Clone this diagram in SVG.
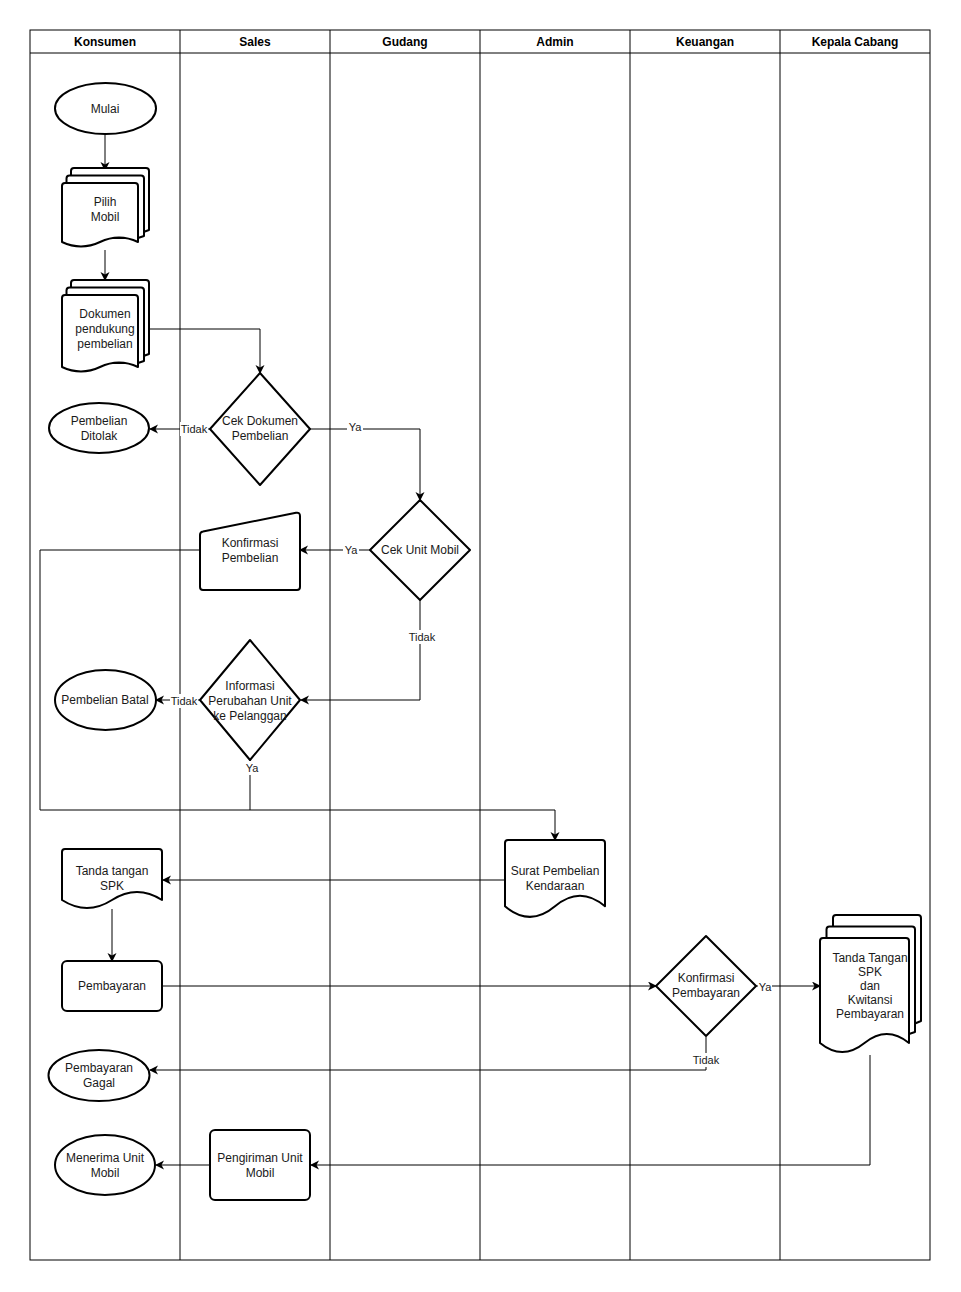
<svg xmlns="http://www.w3.org/2000/svg" width="961" height="1292" viewBox="0 0 961 1292">
<defs>
<marker id="arr" markerWidth="10" markerHeight="10" refX="8" refY="4.5" orient="auto" markerUnits="userSpaceOnUse">
<path d="M0,0 L9,4.5 L0,9 L2.5,4.5 Z" fill="#000"/>
</marker>
<style>
.lane{fill:none;stroke:#000;stroke-width:1}
.hd{font-family:"Liberation Sans",Arial,sans-serif;font-size:12px;font-weight:bold;fill:#000;text-anchor:middle}
.sh{fill:#fff;stroke:#000;stroke-width:2;stroke-linejoin:round}
.t{font-family:"Liberation Sans",Arial,sans-serif;font-size:12px;fill:#1a1a1a;text-anchor:middle}
.el{font-family:"Liberation Sans",Arial,sans-serif;font-size:11px;fill:#1a1a1a;text-anchor:middle}
.cn{fill:none;stroke:#000;stroke-width:1}
.ar{marker-end:url(#arr)}
.bg{fill:#fff}
</style>
</defs>
<rect x="0" y="0" width="961" height="1292" fill="#fff"/>

<g id="lanes">
<rect class="lane" x="30" y="30" width="900" height="1230"/>
<line class="lane" x1="30" y1="53" x2="930" y2="53"/>
<line class="lane" x1="180" y1="30" x2="180" y2="1260"/>
<line class="lane" x1="330" y1="30" x2="330" y2="1260"/>
<line class="lane" x1="480" y1="30" x2="480" y2="1260"/>
<line class="lane" x1="630" y1="30" x2="630" y2="1260"/>
<line class="lane" x1="780" y1="30" x2="780" y2="1260"/>
<text class="hd" x="105" y="46">Konsumen</text>
<text class="hd" x="255" y="46">Sales</text>
<text class="hd" x="405" y="46">Gudang</text>
<text class="hd" x="555" y="46">Admin</text>
<text class="hd" x="705" y="46">Keuangan</text>
<text class="hd" x="855" y="46">Kepala Cabang</text>
</g>

<g id="connectors">
<path class="cn ar" d="M105,134 V170"/>
<path class="cn ar" d="M105,250 V280"/>
<path class="cn ar" d="M150,329 H260 V373"/>
<path class="cn ar" d="M210,429 H150"/>
<path class="cn ar" d="M310,429 H420 V500"/>
<path class="cn ar" d="M370,550 H300"/>
<path class="cn ar" d="M420,600 V700 H301"/>
<path class="cn ar" d="M200,700 H156"/>
<path class="cn ar" d="M200,550 H40 V810 H555 V840"/>
<path class="cn" d="M250,760 V810"/>
<path class="cn ar" d="M505,880 H163"/>
<path class="cn ar" d="M112,909 V961"/>
<path class="cn ar" d="M162,986 H656"/>
<path class="cn ar" d="M756,986 H820"/>
<path class="cn ar" d="M706,1037 V1070 H150"/>
<path class="cn ar" d="M870,1055 V1165 H311"/>
<path class="cn ar" d="M210,1165 H156"/>
<rect class="bg" x="180" y="422" width="28" height="14"/>
<text class="el" x="194" y="433">Tidak</text>
<rect class="bg" x="347" y="420" width="16" height="14"/>
<text class="el" x="355" y="431">Ya</text>
<rect class="bg" x="343" y="543" width="16" height="14"/>
<text class="el" x="351" y="554">Ya</text>
<rect class="bg" x="408" y="630" width="28" height="14"/>
<text class="el" x="422" y="641">Tidak</text>
<rect class="bg" x="170" y="694" width="28" height="14"/>
<text class="el" x="184" y="705">Tidak</text>
<rect class="bg" x="244" y="761" width="16" height="14"/>
<text class="el" x="252" y="772">Ya</text>
<rect class="bg" x="758" y="980" width="14" height="14"/>
<text class="el" x="765" y="991">Ya</text>
<rect class="bg" x="692" y="1053" width="28" height="14"/>
<text class="el" x="706" y="1064">Tidak</text>
</g>

<g id="mulai">
<ellipse class="sh" cx="105.5" cy="108.5" rx="50.5" ry="25.5"/>
<text class="t" x="105" y="113">Mulai</text>
</g>

<g id="pilih-mobil">
<path class="sh" d="M71,171 Q71,168 74,168 H146 Q149,168 149,171 V230 L138,234 L71,234 Z"/>
<path class="sh" d="M66.5,178.5 Q66.5,175.5 69.5,175.5 H141 Q144,175.5 144,178.5 V236 L138,238 L66.5,238 Z"/>
<path class="sh" d="M62,186 Q62,183 65,183 H135 Q138,183 138,186 V242 Q119,233 100,242 Q81,251 62,242 Z"/>
<text class="t" x="105" y="206">Pilih</text>
<text class="t" x="105" y="221">Mobil</text>
</g>

<g id="dokumen">
<path class="sh" d="M71,283 Q71,280 74,280 H146 Q149,280 149,283 V354 L138,358 L71,358 Z"/>
<path class="sh" d="M66.5,290.5 Q66.5,287.5 69.5,287.5 H141 Q144,287.5 144,290.5 V361 L138,363 L66.5,363 Z"/>
<path class="sh" d="M62,298 Q62,295 65,295 H135 Q138,295 138,298 V367 Q119,358 100,367 Q81,376 62,367 Z"/>
<text class="t" x="105" y="318">Dokumen</text>
<text class="t" x="105" y="333">pendukung</text>
<text class="t" x="105" y="348">pembelian</text>
</g>

<g id="cek-dokumen">
<path class="sh" d="M260,373 L310,429 L260,485 L210,429 Z"/>
<text class="t" x="260" y="425">Cek Dokumen</text>
<text class="t" x="260" y="440">Pembelian</text>
</g>

<g id="pembelian-ditolak">
<ellipse class="sh" cx="99" cy="428" rx="50" ry="25"/>
<text class="t" x="99" y="425">Pembelian</text>
<text class="t" x="99" y="440">Ditolak</text>
</g>

<g id="cek-unit">
<path class="sh" d="M420,500 L470,550 L420,600 L370,550 Z"/>
<text class="t" x="420" y="554">Cek Unit Mobil</text>
</g>

<g id="konfirmasi-pembelian">
<path class="sh" d="M203,531.5 L296,512.8 Q300,512 300,516 L300,587 Q300,590 297,590 L203,590 Q200,590 200,587 L200,535 Q200,532 203,531.5 Z"/>
<text class="t" x="250" y="547">Konfirmasi</text>
<text class="t" x="250" y="562">Pembelian</text>
</g>

<g id="informasi">
<path class="sh" d="M250,640 L300,700 L250,760 L200,700 Z"/>
<text class="t" x="250" y="690">Informasi</text>
<text class="t" x="250" y="705">Perubahan Unit</text>
<text class="t" x="250" y="720">ke Pelanggan</text>
</g>

<g id="pembelian-batal">
<ellipse class="sh" cx="105.5" cy="700" rx="50.5" ry="30"/>
<text class="t" x="105" y="704">Pembelian Batal</text>
</g>

<g id="surat">
<path class="sh" d="M505,843 Q505,840 508,840 H602 Q605,840 605,843 V906.3 Q580,885.2 555,906.3 Q530,927.4 505,906.3 Z"/>
<text class="t" x="555" y="875">Surat Pembelian</text>
<text class="t" x="555" y="890">Kendaraan</text>
</g>

<g id="tanda-tangan-spk">
<path class="sh" d="M62,852 Q62,849 65,849 H159 Q162,849 162,852 V900 Q137,884 112,900 Q87,916 62,900 Z"/>
<text class="t" x="112" y="875">Tanda tangan</text>
<text class="t" x="112" y="890">SPK</text>
</g>

<g id="pembayaran">
<rect class="sh" x="62" y="961" width="100" height="50" rx="5" ry="5"/>
<text class="t" x="112" y="990">Pembayaran</text>
</g>

<g id="konfirmasi-pembayaran">
<path class="sh" d="M706,936 L756,986 L706,1036 L656,986 Z"/>
<text class="t" x="706" y="982">Konfirmasi</text>
<text class="t" x="706" y="997">Pembayaran</text>
</g>

<g id="tanda-tangan-kwitansi">
<path class="sh" d="M833,918 Q833,915 836,915 H918 Q921,915 921,918 V1021 L909,1026 L833,1026 Z"/>
<path class="sh" d="M826.5,929.5 Q826.5,926.5 829.5,926.5 H912 Q915,926.5 915,929.5 V1032 L909,1034 L826.5,1034 Z"/>
<path class="sh" d="M820,941 Q820,938 823,938 H906 Q909,938 909,941 V1043 Q886.75,1025 864.5,1043 Q842.25,1061 820,1043 Z"/>
<text class="t" x="870" y="962">Tanda Tangan</text>
<text class="t" x="870" y="976">SPK</text>
<text class="t" x="870" y="990">dan</text>
<text class="t" x="870" y="1004">Kwitansi</text>
<text class="t" x="870" y="1018">Pembayaran</text>
</g>

<g id="pembayaran-gagal">
<ellipse class="sh" cx="99" cy="1075.5" rx="50.5" ry="25.5"/>
<text class="t" x="99" y="1072">Pembayaran</text>
<text class="t" x="99" y="1087">Gagal</text>
</g>

<g id="pengiriman">
<rect class="sh" x="210" y="1130" width="100" height="70" rx="5" ry="5"/>
<text class="t" x="260" y="1162">Pengiriman Unit</text>
<text class="t" x="260" y="1177">Mobil</text>
</g>

<g id="menerima">
<ellipse class="sh" cx="105" cy="1165" rx="50" ry="30"/>
<text class="t" x="105" y="1162">Menerima Unit</text>
<text class="t" x="105" y="1177">Mobil</text>
</g>
</svg>
